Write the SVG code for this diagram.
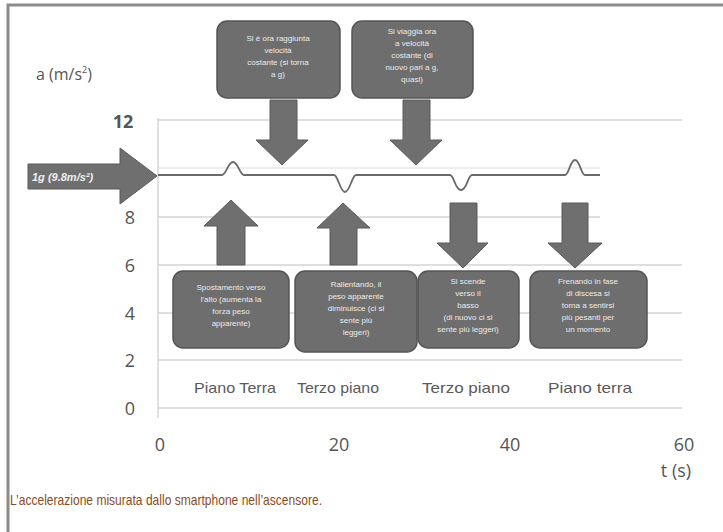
<svg xmlns="http://www.w3.org/2000/svg" width="723" height="532" viewBox="0 0 723 532">
<defs>
<style>
.grid{stroke:#d4d4d4;stroke-width:1.5;fill:none}
.box{fill:#6e6e6e;stroke:#555;stroke-width:1.5}
.arr{fill:#6f6f6f;stroke:#5a5a5a;stroke-width:1}
.bt{font-family:"Liberation Sans",Arial,sans-serif;font-size:8px;fill:#ececec;text-anchor:middle}
.tick{font-family:"Open Sans","DejaVu Sans",sans-serif;font-size:18px;fill:#555;text-anchor:middle}
.floor{font-family:"Liberation Sans",Arial,sans-serif;font-size:15px;fill:#5a5a5a;text-anchor:middle}
</style>
</defs>
<rect x="0" y="0" width="723" height="532" fill="#ffffff"/>
<polyline points="8,532 8,5 723,5" fill="none" stroke="#8c8c8c" stroke-width="3"/>

<g id="axes">
<line class="grid" x1="158" y1="120" x2="682" y2="120"/>
<line class="grid" x1="158" y1="168" x2="600" y2="168" stroke-opacity="0.5"/>
<line class="grid" x1="158" y1="217" x2="600" y2="217"/>
<line class="grid" x1="158" y1="265" x2="682" y2="265"/>
<line class="grid" x1="158" y1="313" x2="682" y2="313"/>
<line class="grid" x1="158" y1="360" x2="682" y2="360"/>
<line class="grid" x1="158" y1="408" x2="682" y2="408"/>
<line class="grid" x1="158" y1="118" x2="158" y2="418"/>
<text x="36" y="80" font-family="Open Sans,DejaVu Sans,sans-serif" font-size="16" fill="#555">a (m/s<tspan font-size="9" dy="-7">2</tspan><tspan dy="7">)</tspan></text>
<text class="tick" x="123" y="128" font-weight="bold" fill="#444">12</text>
<text class="tick" x="130" y="224">8</text>
<text class="tick" x="130" y="272">6</text>
<text class="tick" x="130" y="320">4</text>
<text class="tick" x="130" y="367">2</text>
<text class="tick" x="130" y="415">0</text>
<text class="tick" x="160" y="451" font-size="19">0</text>
<text class="tick" x="339" y="451" font-size="19">20</text>
<text class="tick" x="510" y="451" font-size="19">40</text>
<text class="tick" x="684" y="451" font-size="19">60</text>
<text class="tick" x="676" y="477" font-size="14">t (s)</text>
</g>

<g id="data">
<path d="M158,175 L222,175 C226,175 228,162 233,162 C238,162 240,175 244,175 L334,175 C338,175 340,192 345,192 C350,192 352,175 356,175 L450,175 C454,175 455,190 461,190 C467,190 468,175 472,175 L565,175 C569,175 570,160 575,160 C580,160 581,175 585,175 L600,175" fill="none" stroke="#6a6a6a" stroke-width="1.8"/>
</g>

<g id="g-arrow">
<polygon class="arr" points="28,164 120,164 120,148 157,176 120,204 120,189 28,189"/>
<text x="32" y="181" font-family="Liberation Sans,Arial,sans-serif" font-size="11" font-style="italic" font-weight="bold" fill="#f0f0f0">1g (9.8m/s²)</text>
</g>

<g id="connectors">
<polygon class="arr" points="270,100 297,100 297,140 308,140 282,165 256,140 270,140"/>
<polygon class="arr" points="403,100 430,100 430,140 442,140 416,165 390,140 403,140"/>
<polygon class="arr" points="217,265 245,265 245,226 258,226 231,200 204,226 217,226"/>
<polygon class="arr" points="330,265 357,265 357,228 370,228 343,203 317,228 330,228"/>
<polygon class="arr" points="450,203 477,203 477,243 488,243 463,268 437,243 450,243"/>
<polygon class="arr" points="562,203 588,203 588,243 602,243 575,268 548,243 562,243"/>
</g>

<g id="top-box-1">
<rect class="box" x="217" y="21" width="123" height="77" rx="10"/>
<text class="bt" x="278" y="41">Si è ora raggiunta</text>
<text class="bt" x="278" y="53">velocità</text>
<text class="bt" x="278" y="65">costante (si torna</text>
<text class="bt" x="278" y="77">a g)</text>
</g>
<g id="top-box-2">
<rect class="box" x="352" y="21" width="121" height="77" rx="10"/>
<text class="bt" x="412" y="34">Si viaggia ora</text>
<text class="bt" x="412" y="46">a velocità</text>
<text class="bt" x="412" y="58">costante (di</text>
<text class="bt" x="412" y="70">nuovo pari a g,</text>
<text class="bt" x="412" y="82">quasi)</text>
</g>

<g id="bottom-box-1">
<rect class="box" x="173" y="271" width="116" height="77" rx="10"/>
<text class="bt" x="231" y="290">Spostamento verso</text>
<text class="bt" x="231" y="302">l'alto (aumenta la</text>
<text class="bt" x="231" y="314">forza peso</text>
<text class="bt" x="231" y="326">apparente)</text>
</g>
<g id="bottom-box-2">
<rect class="box" x="295" y="271" width="122" height="81" rx="10"/>
<text class="bt" x="356" y="287">Rallentando, il</text>
<text class="bt" x="356" y="299">peso apparente</text>
<text class="bt" x="356" y="311">diminuisce (ci si</text>
<text class="bt" x="356" y="323">sente più</text>
<text class="bt" x="356" y="335">leggeri)</text>
</g>
<g id="bottom-box-3">
<rect class="box" x="418" y="271" width="101" height="77" rx="10"/>
<text class="bt" x="468" y="284">Si scende</text>
<text class="bt" x="468" y="296">verso il</text>
<text class="bt" x="468" y="308">basso</text>
<text class="bt" x="468" y="320">(di nuovo ci si</text>
<text class="bt" x="468" y="332">sente più leggeri)</text>
</g>
<g id="bottom-box-4">
<rect class="box" x="530" y="271" width="117" height="77" rx="10"/>
<text class="bt" x="588" y="284">Frenando in fase</text>
<text class="bt" x="588" y="296">di discesa si</text>
<text class="bt" x="588" y="308">torna a sentirsi</text>
<text class="bt" x="588" y="320">più pesanti per</text>
<text class="bt" x="588" y="332">un momento</text>
</g>

<g id="floors">
<text class="floor" x="235" y="393" textLength="82" lengthAdjust="spacingAndGlyphs">Piano Terra</text>
<text class="floor" x="338" y="393" textLength="82" lengthAdjust="spacingAndGlyphs">Terzo piano</text>
<text class="floor" x="466" y="393" textLength="88" lengthAdjust="spacingAndGlyphs">Terzo piano</text>
<text class="floor" x="590" y="393" textLength="84" lengthAdjust="spacingAndGlyphs">Piano terra</text>
</g>

<text x="10" y="505" font-family="Liberation Sans,Arial,sans-serif" font-size="15" fill="#8a4b1f" textLength="312" lengthAdjust="spacingAndGlyphs">L’accelerazione misurata dallo smartphone nell’ascensore.</text>
</svg>
